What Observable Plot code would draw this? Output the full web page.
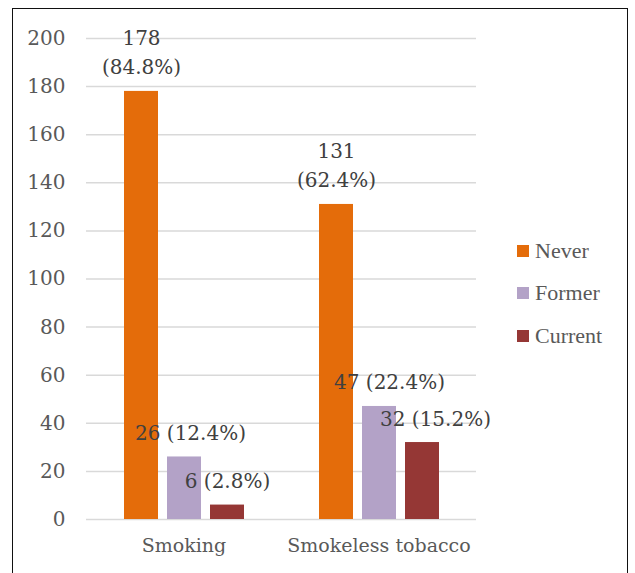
<!DOCTYPE html>
<html>
<head>
<meta charset="utf-8">
<script src="https://cdn.jsdelivr.net/npm/d3@7"></script>
<script src="https://cdn.jsdelivr.net/npm/@observablehq/plot@0.6"></script>
<style>
  html, body { margin: 0; padding: 0; background: #fff; overflow: hidden; }
  #wrap { position: relative; width: 635px; height: 573px; overflow: hidden;
          font-family: "Liberation Serif", serif; }
  #frame { position: absolute; left: 12px; top: 8px; width: 616px; height: 620px;
           border: 1.5px solid #111; box-sizing: border-box; pointer-events: none; }
  #chart { position: absolute; left: 0; top: 0; }
  .legend { position: absolute; left: 517px; top: 0; font-size: 22px; color: #595959; }
  .legend .item { position: absolute; left: 0; white-space: nowrap; display: flex; align-items: center; }
  .legend .sw { width: 12px; height: 12px; margin-right: 6px; }
</style>
</head>
<body>
<div id="wrap">
  <div id="chart"></div>
  <div id="frame"></div>
  <div class="legend" id="legend"></div>
</div>
<script>
// Tobacco use status by product type: counts with share of respondents
const groups = ["Smoking", "Smokeless tobacco"];
const statuses = ["Never", "Former", "Current"];
const smokingCounts = [178, 26, 6];
const smokingPercents = [84.8, 12.4, 2.8];
const smokelessCounts = [131, 47, 32];
const smokelessPercents = [62.4, 22.4, 15.2];
const yTicks = [0, 20, 40, 60, 80, 100, 120, 140, 160, 180, 200];

const colors = ["#E46C0A", "#B3A2C7", "#953735"];
const serif = "DejaVu Serif";

// Horizontal nudges for data labels that sit beside neighbouring bars
const labelNudge = {
  "Smoking|Former": 6,
  "Smokeless tobacco|Former": 10,
  "Smokeless tobacco|Current": 13
};

const rows = [];
[[smokingCounts, smokingPercents], [smokelessCounts, smokelessPercents]].forEach(([counts, pcts], gi) => {
  statuses.forEach((s, si) => {
    rows.push({group: groups[gi], status: s, count: counts[si], pct: pcts[si]});
  });
});

const labelText = d => d.status === "Never"
  ? `${d.count}\n(${d.pct.toFixed(1)}%)`
  : `${d.count} (${d.pct.toFixed(1)}%)`;

const labelMarks = rows.map(r => Plot.text([r], {
  fx: "group", x: "status", y: "count",
  text: labelText,
  lineAnchor: "bottom",
  lineHeight: 1.45,
  dy: -17,
  dx: labelNudge[`${r.group}|${r.status}`] || 0,
  fill: "#404040",
  fontSize: 20,
  fontFamily: serif
}));

const chart = Plot.plot({
  width: 635,
  height: 573,
  marginLeft: 86,
  marginRight: 159,
  marginTop: 38,
  marginBottom: 54,
  style: {fontSize: "20px", color: "#595959", background: "transparent"},
  fx: {domain: groups, padding: 0, label: null},
  x: {domain: statuses, paddingInner: 0.22, paddingOuter: 0.85, axis: null},
  y: {domain: [0, 200], label: null},
  color: {domain: statuses, range: colors},
  marks: [
    Plot.gridY(yTicks, {stroke: "#d9d9d9", strokeOpacity: 1, strokeWidth: 1.5}),
    Plot.axisY(yTicks, {tickSize: 0, tickPadding: 21, label: null, fill: "#595959", fontSize: 20, fontFamily: serif}),
    Plot.axisFx({anchor: "bottom", tickSize: 0, tickPadding: 19, label: null, fill: "#595959", fontSize: 19, fontFamily: serif}),
    Plot.barY(rows, {fx: "group", x: "status", y: "count", fill: "status"}),
    ...labelMarks
  ]
});
document.getElementById("chart").appendChild(chart);

// Legend to the right of the plot
const legend = document.getElementById("legend");
const legendTops = [251, 293, 336];
statuses.forEach((s, i) => {
  const item = document.createElement("div");
  item.className = "item";
  item.style.top = (legendTops[i] - 14) + "px";
  item.style.height = "28px";
  const sw = document.createElement("div");
  sw.className = "sw";
  sw.style.background = colors[i];
  const label = document.createElement("span");
  label.textContent = s;
  item.appendChild(sw);
  item.appendChild(label);
  legend.appendChild(item);
});
</script>
</body>
</html>
